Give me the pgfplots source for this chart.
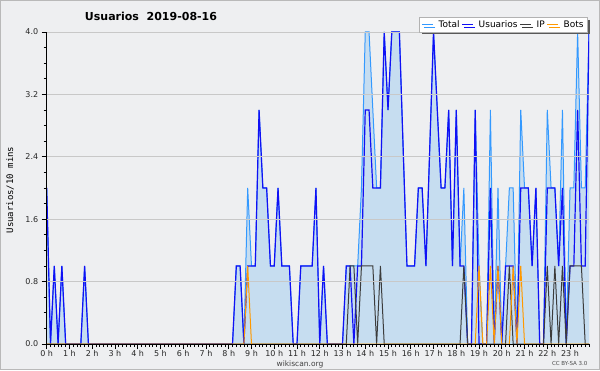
\documentclass[border=0pt]{standalone}
\usepackage{pgfplots}
\pgfplotsset{compat=1.18}
\usepackage{pgfplotstable}
\usepackage{fontspec}
\setmainfont{DejaVu Sans}
\setmonofont{DejaVu Sans Mono}
\usetikzlibrary{shadows}
\definecolor{bgc}{RGB}{238,239,241}
\definecolor{fillc}{RGB}{198,221,240}
\definecolor{totc}{RGB}{51,153,255}
\definecolor{usrc}{RGB}{16,16,245}
\definecolor{ipc}{RGB}{60,60,60}
\definecolor{botc}{RGB}{255,153,0}
\definecolor{gridc}{RGB}{200,200,200}
\pgfplotstableread{
i T U P B
0 2 2 0 0
1 0 0 0 0
2 1 1 0 0
3 0 0 0 0
4 1 1 0 0
5 0 0 0 0
6 0 0 0 0
7 0 0 0 0
8 0 0 0 0
9 0 0 0 0
10 1 1 0 0
11 0 0 0 0
12 0 0 0 0
13 0 0 0 0
14 0 0 0 0
15 0 0 0 0
16 0 0 0 0
17 0 0 0 0
18 0 0 0 0
19 0 0 0 0
20 0 0 0 0
21 0 0 0 0
22 0 0 0 0
23 0 0 0 0
24 0 0 0 0
25 0 0 0 0
26 0 0 0 0
27 0 0 0 0
28 0 0 0 0
29 0 0 0 0
30 0 0 0 0
31 0 0 0 0
32 0 0 0 0
33 0 0 0 0
34 0 0 0 0
35 0 0 0 0
36 0 0 0 0
37 0 0 0 0
38 0 0 0 0
39 0 0 0 0
40 0 0 0 0
41 0 0 0 0
42 0 0 0 0
43 0 0 0 0
44 0 0 0 0
45 0 0 0 0
46 0 0 0 0
47 0 0 0 0
48 0 0 0 0
49 0 0 0 0
50 1 1 0 0
51 1 1 0 0
52 0 0 0 0
53 2 1 0 1
54 1 1 0 0
55 1 1 0 0
56 3 3 0 0
57 2 2 0 0
58 2 2 0 0
59 1 1 0 0
60 1 1 0 0
61 2 2 0 0
62 1 1 0 0
63 1 1 0 0
64 1 1 0 0
65 0 0 0 0
66 0 0 0 0
67 1 1 0 0
68 1 1 0 0
69 1 1 0 0
70 1 1 0 0
71 2 2 0 0
72 0 0 0 0
73 1 1 0 0
74 0 0 0 0
75 0 0 0 0
76 0 0 0 0
77 0 0 0 0
78 0 0 0 0
79 1 1 0 0
80 1 1 1 0
81 1 0 1 0
82 1 1 0 0
83 2 1 1 0
84 4 3 1 0
85 4 3 1 0
86 3 2 1 0
87 2 2 0 0
88 2 2 1 0
89 4 4 0 0
90 3 3 0 0
91 4 4 0 0
92 4 4 0 0
93 4 4 0 0
94 2.5 2.5 0 0
95 1 1 0 0
96 1 1 0 0
97 1 1 0 0
98 2 2 0 0
99 2 2 0 0
100 1 1 0 0
101 2.5 2.5 0 0
102 4 4 0 0
103 3 3 0 0
104 2 2 0 0
105 2 2 0 0
106 3 3 0 0
107 1 1 0 0
108 3 3 0 0
109 1 1 0 0
110 2 1 1 0
111 0 0 0 0
112 0 0 0 0
113 3 3 0 0
114 1 0 0 1
115 0 0 0 0
116 0 0 0 0
117 3 2 0 1
118 0 0 0 0
119 2 1 0 1
120 0 0 0 0
121 1 1 0 0
122 2 1 1 0
123 2 1 0 1
124 0 0 0 0
125 3 2 0 1
126 2 2 0 0
127 2 2 0 0
128 1 1 0 0
129 2 2 0 0
130 0 0 0 0
131 0 0 0 0
132 3 2 1 0
133 2 2 0 0
134 2 2 1 0
135 1 1 0 0
136 3 2 1 0
137 0 0 0 0
138 2 1 1 0
139 2 1 1 0
140 4 3 1 0
141 2 1 1 0
142 2 1 0 0
143 4 4 0 0
}\data
\begin{document}
\begin{tikzpicture}
\useasboundingbox (0,0) rectangle (600pt,370pt);
\fill[bgc] (0,0) rectangle (600pt,370pt);
\draw[gray!55, line width=1pt] (0.5pt,0.5pt) rectangle (599.5pt,369.5pt);
\begin{axis}[
  at={(46.7pt,26pt)}, anchor=south west, scale only axis,
  width=542.3pt, height=312pt,
  xmin=0, xmax=143, ymin=0, ymax=4,
  axis on top,
  axis x line*=bottom, axis y line*=left,
  axis line style={-, line width=1pt, black},
  xtick={0,6,...,138},
  xticklabels={0 h,1 h,2 h,3 h,4 h,5 h,6 h,7 h,8 h,9 h,10 h,11 h,12 h,13 h,14 h,15 h,16 h,17 h,18 h,19 h,20 h,21 h,22 h,23 h},
  minor xtick={0,1,...,143},
  ytick={0,0.8,1.6,2.4,3.2,4},
  minor ytick={0.2,0.4,0.6,1.0,1.2,1.4,1.8,2.0,2.2,2.6,2.8,3.0,3.4,3.6,3.8},
  /pgf/number format/assume math mode=true,
  yticklabel style={/pgf/number format/.cd, fixed, fixed zerofill, precision=1},
  xticklabel style={yshift=2.5pt},
  tick align=outside, major tick length=5pt, minor tick length=3pt,
  tick style={black, line width=0.8pt},
  ymajorgrids, grid style={line width=0.8pt, color=gridc},
  tick label style={font=\fontsize{8}{8}\selectfont, text=black!85},
  legend style={at={(0.998,1.047)}, anchor=north east, draw=gray!60, fill=white,
    line width=0.6pt, font=\fontsize{9}{9}\selectfont, inner xsep=2pt, inner ysep=1pt,
    /tikz/every odd column/.append style={column sep=3pt},
    drop shadow={shadow xshift=2pt, shadow yshift=-2.5pt, fill=black!65, opacity=1}},
  legend columns=4,
  legend image code/.code={\draw[#1] (0pt,0pt) -- (11pt,0pt);},
]
\addplot[fill=fillc, draw=none, forget plot] table[x=i,y=T] {\data} \closedcycle;
\addplot[totc, line width=1pt] table[x=i,y=T] {\data};
\addlegendentry{Total}
\addplot[usrc, line width=1.2pt] table[x=i,y=U] {\data};
\addlegendentry{Usuarios}
\addplot[ipc, line width=1pt] table[x=i,y=P] {\data};
\addlegendentry{IP}
\addplot[botc, line width=1pt] table[x=i,y=B] {\data};
\addlegendentry{Bots}
\end{axis}
\node[font=\bfseries\fontsize{11}{11}\selectfont, anchor=base] at (151pt,349.5pt) {Usuarios\ \ 2019-08-16};
\node[font=\ttfamily\fontsize{9}{9}\selectfont, rotate=90] at (10pt,180pt) {Usuarios/10 mins};
\node[font=\fontsize{7.5}{7.5}\selectfont, text=black!75, anchor=base] at (300pt,4pt) {wikiscan.org};
\node[font=\fontsize{5.5}{5.5}\selectfont, text=black!70, anchor=east] at (591pt,7pt) {CC BY-SA 3.0};
\end{tikzpicture}
\end{document}
